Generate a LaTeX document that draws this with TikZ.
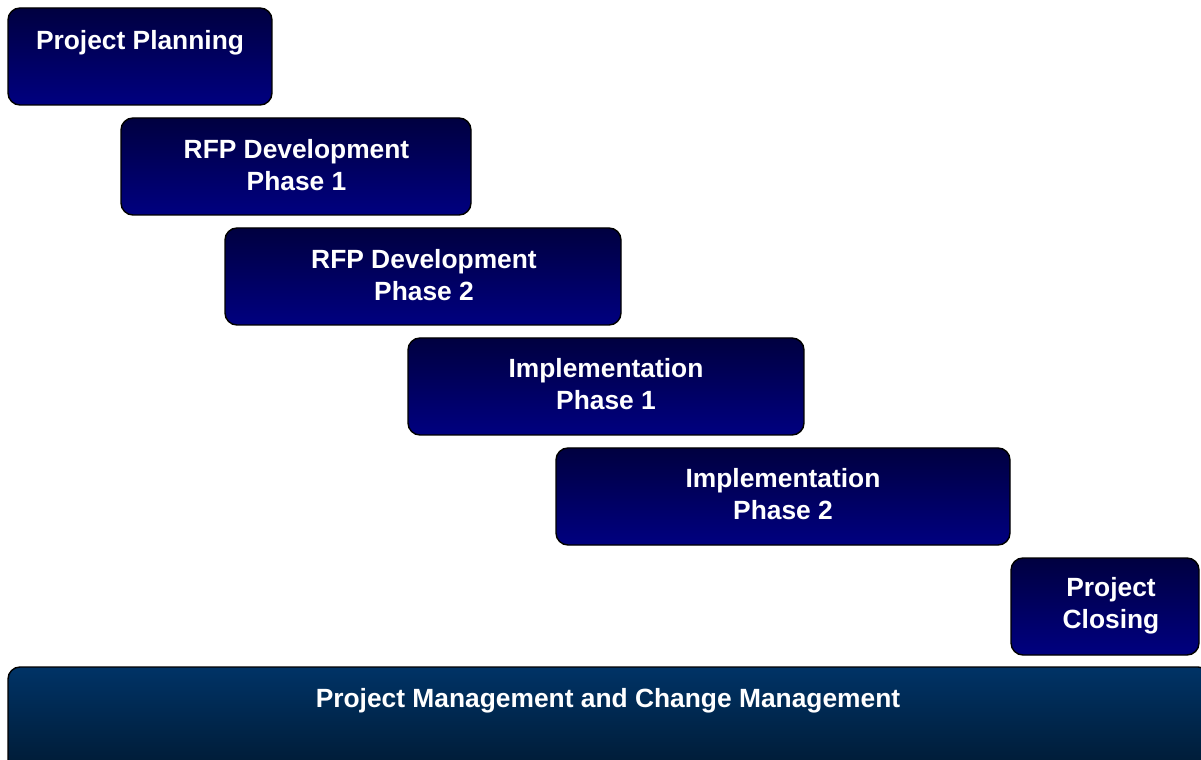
\documentclass[tikz,border=0pt]{standalone}
\usepackage{fontspec}
\setmainfont{Liberation Sans}
\usepackage{tikz}

\definecolor{navytop}{HTML}{000040}
\definecolor{navybot}{HTML}{000080}
\definecolor{pmtop}{HTML}{003366}
\definecolor{pmbot}{HTML}{001A33}

\tikzset{
  phase/.style={draw=black, line width=0.8pt, rounded corners=0.24cm,
                top color=navytop, bottom color=navybot},
  pmbar/.style={draw=black, line width=0.8pt, rounded corners=0.24cm,
                top color=pmtop, bottom color=pmbot},
  lbl/.style={text=white, align=center, inner sep=0,
              font=\fontsize{15}{18.2}\selectfont\bfseries}
}

\begin{document}
\begin{tikzpicture}
\clip (0, 0) rectangle (24.02cm, 15.18cm);
\fill[white] (0, 0) rectangle (24.02cm, 15.18cm);
%planning
\shade[phase] (0.16cm, 13.08cm) rectangle (5.44cm, 15.02cm);
\node[lbl] (plan) at (2.80cm, 14.32cm) {Project Planning};
%rfp development
\shade[phase] (2.42cm, 10.88cm) rectangle (9.42cm, 12.82cm);
\node[lbl] (rfpA) at (5.93cm, 11.88cm) {RFP Development\\Phase 1};
\shade[phase] (4.50cm, 8.68cm) rectangle (12.42cm, 10.62cm);
\node[lbl] (rfpB) at (8.48cm, 9.68cm) {RFP Development\\Phase 2};
%implementation
\shade[phase] (8.16cm, 6.48cm) rectangle (16.08cm, 8.42cm);
\node[lbl] (implA) at (12.12cm, 7.50cm) {Implementation\\Phase 1};
\shade[phase] (11.12cm, 4.28cm) rectangle (20.20cm, 6.22cm);
\node[lbl] (implB) at (15.66cm, 5.30cm) {Implementation\\Phase 2};
%closing
\shade[phase] (20.22cm, 2.08cm) rectangle (23.98cm, 4.02cm);
\node[lbl] (close) at (22.22cm, 3.06cm) {Project\\Closing};
%management bar
\shade[pmbar] (0.16cm, -0.3cm) rectangle (24.2cm, 1.84cm);
\node[lbl] (pm) at (12.16cm, 1.16cm) {Project Management and Change Management};
\end{tikzpicture}
\end{document}
